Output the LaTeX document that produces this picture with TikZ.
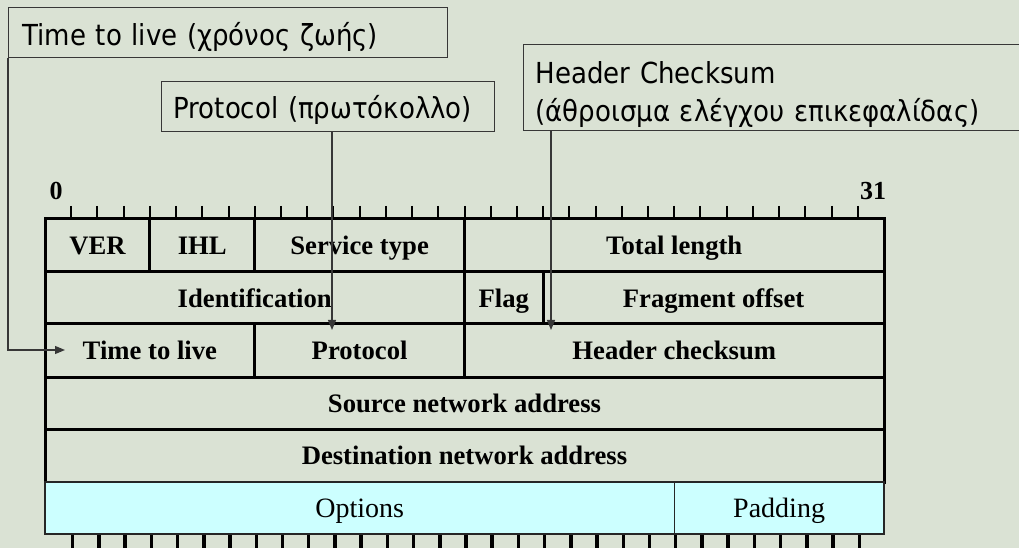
\documentclass[tikz,border=0pt]{standalone}
\usepackage{fontspec}
\setmainfont{Liberation Serif}
\newfontfamily\annfont{DejaVu Sans Condensed}
\usetikzlibrary{arrows.meta,calc}
\definecolor{bg}{RGB}{218,226,212}
\definecolor{optfill}{RGB}{204,255,255}
\definecolor{anncol}{RGB}{55,55,55}
\newcommand\ipcell[7][]{%
  \pgfmathsetmacro\ipxa{45+#3*26.21875}%
  \pgfmathsetmacro\ipxb{45+#4*26.21875}%
  \node[cellbox,#1,minimum width={(\ipxb-\ipxa)*0.75pt},minimum height={(#6-#5)*0.75pt}] (#2) at ({(\ipxa+\ipxb)/2},{(#5+#6)/2}) {#7};%
}
\tikzset{
  cellbox/.style={draw=black,line width=2.25pt,inner sep=0pt,text height=17pt,text depth=3pt,
    font=\fontsize{20}{24}\selectfont\bfseries},
  optcell/.style={draw=black!85,line width=1pt,fill=optfill,font=\fontsize{21}{25}\selectfont\mdseries},
  annbox/.style={draw=anncol,line width=1pt,anchor=north west,align=left,inner ysep=0pt,
    font=\annfont\fontsize{21.7}{28.5}\selectfont},
  conn/.style={draw=anncol,line width=0.9pt,-{Triangle[length=7.5pt,width=6pt]}},
  toptick/.style={draw=black,line width=1.5pt},
  bartick/.style={draw=black,line width=2.6pt},
  numlbl/.style={inner sep=0pt,font=\fontsize{19.5}{22}\selectfont\bfseries}
}
\begin{document}
\begin{tikzpicture}[x=0.75pt,y=-0.75pt]
\useasboundingbox (0,0) rectangle (1019,548);
\clip (0,0) rectangle (1019,548);
\fill[bg] (0,0) rectangle (1019,548);

% annotation boxes
\node[annbox,inner xsep=10.5pt,text width=308.25pt,minimum height=37.5pt,text height=23pt,text depth=3.5pt]
  (ttl) at (8,7) {Time to live (χρόνος ζωής)};
\node[annbox,inner xsep=9pt,text width=231.75pt,minimum height=37.5pt,text height=23pt,text depth=4.5pt]
  (proto) at (161,81) {Protocol (πρωτόκολλο)};
\node[annbox,inner xsep=9pt,text width=362.25pt,minimum height=64.5pt]
  (hc) at (523,44) {\rule{0pt}{27.5pt}Header Checksum\\(άθροισμα ελέγχου επικεφαλίδας)};

% bit numbers and ticks
\node[numlbl] (n0) at (56,191) {0};
\node[numlbl] (n31) at (873,191) {31};
\foreach \k in {1,...,31}
  \draw[toptick] ({45+\k*26.21875},206) -- ({45+\k*26.21875},218);

% header table
\ipcell{ver}{0}{4}{219}{272}{VER}
\ipcell{ihl}{4}{8}{219}{272}{IHL}
\ipcell{st}{8}{16}{219}{272}{Service type}
\ipcell{tl}{16}{32}{219}{272}{Total length}
\ipcell{id}{0}{16}{272}{324}{Identification}
\ipcell{flag}{16}{19}{272}{324}{Flag}
\ipcell{fo}{19}{32}{272}{324}{Fragment offset}
\ipcell{ttlc}{0}{8}{324}{377}{Time to live}
\ipcell{protoc}{8}{16}{324}{377}{Protocol}
\ipcell{hcc}{16}{32}{324}{377}{Header checksum}
\ipcell{src}{0}{32}{377}{429}{Source network address}
\ipcell{dst}{0}{32}{429}{482}{Destination network address}
\ipcell[optcell]{opt}{0}{24}{482}{534}{Options}
\ipcell[optcell]{pad}{24}{32}{482}{534}{Padding}

\foreach \k in {1,...,31}
  \draw[bartick] ({46.5+\k*26.21875},535) -- ({46.5+\k*26.21875},548);

% connectors
\coordinate (ttlend) at (65,350);
\coordinate (protoend) at (332,330);
\coordinate (hcend) at (551,330);
\draw[conn] (ttl.south west) |- (ttlend);
\draw[conn] (proto.south -| protoend) -- (protoend);
\draw[conn] (hc.south -| hcend) -- (hcend);
\end{tikzpicture}
\end{document}
